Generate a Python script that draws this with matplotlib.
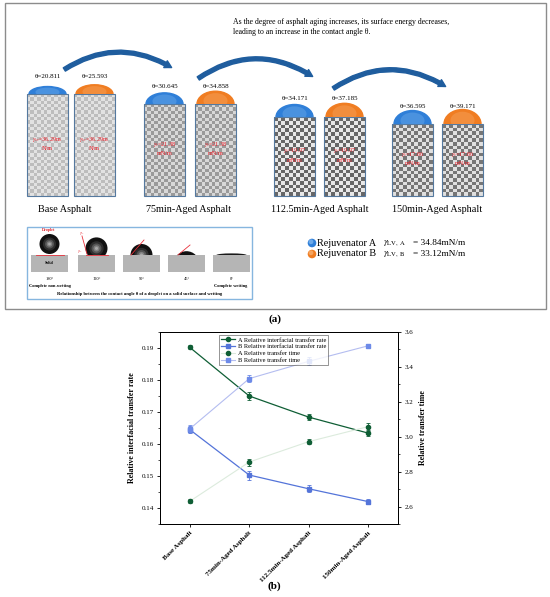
import numpy as np
import matplotlib
matplotlib.use("Agg")
import matplotlib.pyplot as plt
from matplotlib.patches import Rectangle, Ellipse, Circle, FancyArrowPatch
from matplotlib.colors import ListedColormap
from matplotlib.lines import Line2D
from matplotlib.ticker import MultipleLocator

plt.rcParams['font.family'] = ['Liberation Serif', 'DejaVu Serif']
plt.rcParams['mathtext.fontset'] = 'stix'

# ---- data ----
stages = ['Base Asphalt', '75min-Aged Asphalt', '112.5min-Aged Asphalt', '150min-Aged Asphalt']
theta_a = [20.811, 30.645, 34.171, 36.595]
theta_b = [25.593, 34.858, 37.185, 39.171]
gamma_s = [r'$\gamma_{sv}$=36.29m' + '\nN/m', r'$\gamma_{s}$=21.38' + '\nmN/m',
           r'$\gamma_{s}$=19.97' + '\nmN/m', r'$\gamma_{s}$=17.86' + '\nmN/m']
gamma_lv = {'A': 34.84, 'B': 33.12}
wet_angles = [180, 120, 90, 45, 0]

rate_a = [0.1902, 0.1750, 0.1684, 0.1634]
rate_a_err = [0.0006, 0.0012, 0.0009, 0.0008]
rate_b = [0.1645, 0.1503, 0.1460, 0.1420]
rate_b_err = [0.0012, 0.0014, 0.0011, 0.0008]
time_a = [2.630, 2.855, 2.972, 3.058]
time_a_err = [0.012, 0.020, 0.014, 0.022]
time_b = [3.045, 3.333, 3.432, 3.521]
time_b_err = [0.020, 0.022, 0.022, 0.012]

fig = plt.figure(figsize=(5.5, 5.97), dpi=100)

# ---- panel (a): schematic drawn in pixel coordinates ----
ax = fig.add_axes([0, 0, 1, 1])
ax.set_xlim(0, 550)
ax.set_ylim(597, 0)
ax.axis('off')

ax.add_patch(Rectangle((5, 3), 541, 306, fill=False, ec='#8c8c8c', lw=1.0))
ax.text(233, 27, 'As the degree of asphalt aging increases, its surface energy decreases,\n'
        'leading to an increase in the contact angle θ.', fontsize=5.6, va='center',
        ha='left', linespacing=1.5)

pair_x = [(27, 74), (144, 195), (274, 324), (392, 442)]
tops = [94, 104, 117, 124]
bottom = 196
bw = 41
textures = [('#bdbdbd', '#e2e2e2', 3.2), ('#9a9a9a', '#d8d8d8', 3.4),
            ('#676767', '#e8e8e8', 3.6), ('#767676', '#e0e0e0', 3.6)]
group_x = [65, 188, 320, 437]
drop_cols = ['#2f7fd8', '#f07d22']
drop_light = ['#7fb6ee', '#f8b070']

for i in range(4):
    bg, fg, step = textures[i]
    top = tops[i]
    for j, x0 in enumerate(pair_x[i]):
        ny, nx = int((bottom - top) / step), int(bw / step)
        tex = np.add.outer(np.arange(ny), np.arange(nx)) % 2
        ax.imshow(tex, cmap=ListedColormap([bg, fg]), extent=(x0, x0 + bw, bottom, top),
                  interpolation='nearest', aspect='auto', zorder=2)
        ax.add_patch(Rectangle((x0, top), bw, bottom - top, fill=False, ec='#55799f',
                               lw=0.8, zorder=3))
        th = (theta_a if j == 0 else theta_b)[i]
        cx = x0 + bw / 2
        a = bw / 2 - 2
        h = 2.2 * a * np.tan(np.radians(th) / 2)
        clip = Rectangle((cx - a - 1, top - h - 2), 2 * a + 2, h + 2, transform=ax.transData)
        e1 = Ellipse((cx, top), 2 * a, 2 * h, color=drop_cols[j], zorder=3)
        e2 = Ellipse((cx, top - h * 0.25), 1.3 * a, 1.2 * h, color=drop_light[j],
                     alpha=0.35, zorder=3, lw=0)
        for e in (e1, e2):
            ax.add_patch(e)
            e.set_clip_path(clip)
        ax.text(cx, top - 18, f'θ={th:.3f}', fontsize=5, ha='center', va='center', zorder=4)
        ax.text(cx, (top + bottom) / 2 - 2, gamma_s[i], fontsize=4.4,
                color='#f0202a', ha='center', va='center', zorder=4, linespacing=1.7)
    ax.text(group_x[i], 209, stages[i], fontsize=7.3, ha='center', va='center')

arrows = [((62, 71), (174, 69), -0.32), ((196, 80), (315, 78), -0.34),
          ((331, 90), (448, 88), -0.33)]
for p0, p1, rad in arrows:
    ax.add_patch(FancyArrowPatch(p0, p1, connectionstyle=f'arc3,rad={rad}',
                                 arrowstyle='simple,head_width=5.5,head_length=5,tail_width=2.8',
                                 color='#1f5d9e', zorder=4, mutation_scale=1))

# inset: contact angle vs wetting
ax.add_patch(Rectangle((27, 227), 225, 72, fill=False, ec='#86b6df', lw=1.0))
solid_x = [31, 78, 123, 168, 213]
radii = [10, 11, 11, 13, 15]
surf = 255
for k, ang in enumerate(wet_angles):
    x0 = solid_x[k]
    ax.add_patch(Rectangle((x0, surf), 37, 17, color='#b5b5b5', lw=0))
    cx = x0 + 18.5
    R = radii[k]
    if ang > 0:
        cy = surf + R * np.cos(np.radians(ang))
        clip = Rectangle((cx - R - 1, surf - 2 * R - 3), 2 * R + 2, 2 * R + 3,
                         transform=ax.transData)
        for frac, col in [(1.0, '#111111'), (0.65, '#2e2e2e'), (0.45, '#555555'),
                          (0.28, '#808080'), (0.14, '#a8a8a8')]:
            c = Circle((cx, cy - R * 0.1 * (ang > 90)), R * frac, color=col, lw=0)
            ax.add_patch(c)
            c.set_clip_path(clip)
    else:
        clip = Rectangle((cx - 16, surf - 3), 32, 3, transform=ax.transData)
        e = Ellipse((cx, surf), 30, 3.2, color='#1a1a1a', lw=0)
        ax.add_patch(e)
        e.set_clip_path(clip)
    ax.text(cx, 279, f'{ang}°', fontsize=3.2, ha='center', va='center')
ax.text(50, 285.5, 'Complete non-wetting', fontsize=3.2, ha='center', va='center', weight='bold')
ax.text(231, 285.5, 'Complete wetting', fontsize=3.2, ha='center', va='center', weight='bold')
ax.text(140, 293.5, 'Relationship between the contact angle θ of a droplet on a solid surface and wetting',
        fontsize=3.3, ha='center', va='center', weight='bold')
ax.text(49, 263, 'Solid', fontsize=3, ha='center', va='center', weight='bold')
ax.text(49, 230, 'Droplet', fontsize=3, ha='center', va='center', color='#e0242c', weight='bold')
red = '#e8303a'
ax.plot([36, 64], [254.5, 254.5], color=red, lw=0.6)
ax.plot([86, 108], [254.5, 254.5], color=red, lw=0.6)
ax.plot([87, 82], [254, 236], color=red, lw=0.6)
ax.plot([131, 144], [255, 240], color=red, lw=0.6)
ax.plot([178, 190], [255, 245], color=red, lw=0.6)
ax.text(82, 235, r'$\gamma_{lv}$', fontsize=3, color=red, ha='center')
ax.text(80, 252, r'$\gamma_{sv}$', fontsize=3, color=red, ha='center')

# rejuvenator legend
for k, (name, col, light) in enumerate([('A', drop_cols[0], drop_light[0]),
                                        ('B', drop_cols[1], drop_light[1])]):
    y = 243 + 11 * k
    ax.add_patch(Circle((312, y), 4.3, color=col, lw=0))
    ax.add_patch(Circle((311, y - 1.2), 2.4, color=light, lw=0, alpha=0.8))
    ax.text(317, y, f'Rejuvenator {name}', fontsize=7.3, va='center', ha='left')
    ax.text(383, y + 0.5, r'$\gamma_{\rm LV,\ ' + name + r'}$', fontsize=6.8,
            va='center', ha='left')
    ax.text(413, y, f'= {gamma_lv[name]:.2f}mN/m', fontsize=6.7, va='center', ha='left')

ax.text(275, 319, '(a)', fontsize=8, weight='bold', ha='center', va='center')
ax.text(274, 586, '(b)', fontsize=8, weight='bold', ha='center', va='center')

# ---- panel (b): dual-axis line chart ----
W, H = 550, 597
axb = fig.add_axes([160 / W, (H - 524) / H, 238 / W, 192 / H])
axr = axb.twinx()
xs = np.arange(len(stages))

c_a = '#0f5e35'
c_b = '#5474d9'
c_bt = '#6d8ae8'

axb.errorbar(xs, rate_a, yerr=rate_a_err, color=c_a, marker='o', ms=3, lw=0.9,
             capsize=1.6, elinewidth=0.6, capthick=0.6, zorder=4)
axb.errorbar(xs, rate_b, yerr=rate_b_err, color=c_b, marker='s', ms=3, lw=0.9,
             capsize=1.6, elinewidth=0.6, capthick=0.6, zorder=4)
axr.plot(xs, time_a, color='#dcebdd', lw=0.8, zorder=1)
axr.errorbar(xs, time_a, yerr=time_a_err, color=c_a, marker='o', ms=3, lw=0,
             ecolor=c_a, capsize=1.6, elinewidth=0.6, capthick=0.6, zorder=3)
axr.plot(xs, time_b, color='#b4bdf0', lw=0.8, zorder=1)
axr.errorbar(xs, time_b, yerr=time_b_err, color=c_bt, marker='s', ms=3, lw=0,
             ecolor=c_bt, capsize=1.6, elinewidth=0.6, capthick=0.6, zorder=3)

axb.set_xlim(-0.5, 3.5)
axb.set_ylim(0.135, 0.195)
axb.yaxis.set_major_locator(MultipleLocator(0.01))
axb.yaxis.set_minor_locator(MultipleLocator(0.005))
axr.set_ylim(2.5, 3.6)
axr.yaxis.set_major_locator(MultipleLocator(0.2))
axr.yaxis.set_minor_locator(MultipleLocator(0.1))
axb.set_xticks(xs)
axb.set_xticklabels(stages, rotation=45, ha='right', rotation_mode='anchor',
                    fontsize=4.6, weight='bold')
for a_ in (axb, axr):
    a_.tick_params(axis='both', which='major', direction='out', length=2.5, width=0.6,
                   labelsize=5, pad=2)
    a_.tick_params(axis='both', which='minor', direction='out', length=1.5, width=0.5)
    for s in a_.spines.values():
        s.set_linewidth(0.7)
axb.set_ylabel('Relative interfacial transfer rate', fontsize=5.8, weight='bold', labelpad=3)
axb.yaxis.set_label_coords(-0.1, 0.5)
axr.set_ylabel('Relative transfer time', fontsize=5.8, weight='bold', labelpad=3)
axr.yaxis.label.set_rotation(90)
axr.yaxis.set_label_coords(1.09, 0.5)

handles = [
    Line2D([], [], color=c_a, marker='o', ms=3, lw=0.9),
    Line2D([], [], color=c_b, marker='s', ms=3, lw=0.9),
    Line2D([], [], color='#dcebdd', marker='o', ms=3, mfc=c_a, mec=c_a, lw=0.8),
    Line2D([], [], color='#b4bdf0', marker='s', ms=3, mfc=c_bt, mec=c_bt, lw=0.8),
]
labels = ['A Relative interfacial transfer rate', 'B Relative interfacial transfer rate',
          'A Relative transfer time', 'B Relative transfer time']
leg = axr.legend(handles, labels, loc='upper left', bbox_to_anchor=(0.235, 1.0),
                 fontsize=4.6, frameon=True, fancybox=False, edgecolor='#444444',
                 borderpad=0.3, labelspacing=0.2, handlelength=2.2, handletextpad=0.4)
leg.get_frame().set_linewidth(0.5)

fig.savefig('out.png', dpi=100)
